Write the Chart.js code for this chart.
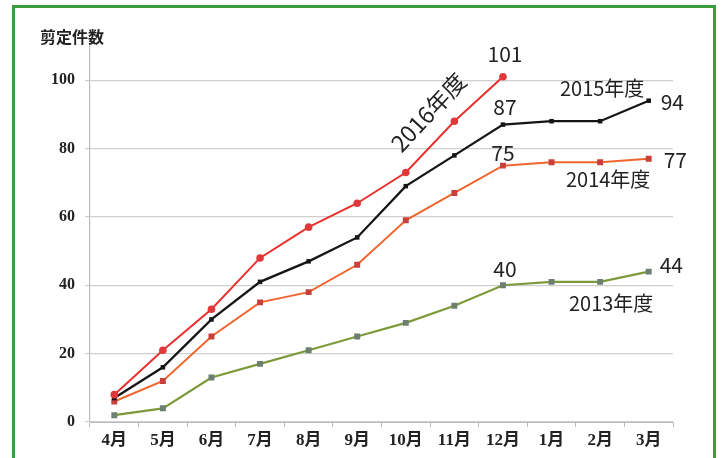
<!DOCTYPE html>
<html><head><meta charset="utf-8">
<script src="https://cdn.jsdelivr.net/npm/chart.js@4"></script>
<style>
html,body{margin:0;padding:0;background:#fff;overflow:hidden;}
#wrap{position:relative;width:727px;height:458px;}
#frame{position:absolute;left:12px;top:5px;width:704px;height:470px;border:3px solid #3a9c3e;box-sizing:border-box;pointer-events:none;}
canvas{position:absolute;left:0;top:0;}
</style></head>
<body>
<div id="wrap"><canvas id="c" width="727" height="458"></canvas><div id="frame"></div></div>
<script>
const categories = ['4月','5月','6月','7月','8月','9月','10月','11月','12月','1月','2月','3月'];
const fy2016 = [8,21,33,48,57,64,73,88,101,null,null,null];
const fy2015 = [7,16,30,41,47,54,69,78,87,88,88,94];
const fy2014 = [6,12,25,35,38,46,59,67,75,76,76,77];
const fy2013 = [2,4,13,17,21,25,29,34,40,41,41,44];
const yTicks = [0,20,40,60,80,100];
const axisTitle = '剪定件数';
// annotations: text, dataset index, point index, offset x, offset y, rotation, align, size
const notes = [
  ['101',0,8,2,-23,0,'center',21],
  ['87',1,8,2,-18,0,'center',21],
  ['75',2,8,0,-13,0,'center',21],
  ['40',3,8,2,-16,0,'center',21],
  ['94',1,11,12,1,0,'left',21],
  ['77',2,11,15,1,0,'left',21],
  ['44',3,11,11,-7,0,'left',21],
  ['2015年度',1,10,2,-33,0,'center',20],
  ['2014年度',2,10,8,17,0,'center',20],
  ['2013年度',3,10,11,22,0,'center',20],
  ['2016年度',0,7,-26,-9,-47,'center',23]
];

const annot = {
  id:'annot',
  afterDatasetsDraw(chart){
    const ctx = chart.ctx;
    ctx.save();
    ctx.fillStyle = '#222';
    ctx.font = 'bold 16px "Noto Sans CJK JP"';
    ctx.textAlign = 'left'; ctx.textBaseline = 'middle';
    ctx.fillText(axisTitle, 40, 37);
    for (const [t,di,pi,dx,dy,rot,al,sz] of notes){
      const pt = chart.getDatasetMeta(di).data[pi];
      ctx.save();
      ctx.font = sz+'px "Noto Sans CJK JP"';
      ctx.translate(pt.x+dx, pt.y+dy);
      ctx.rotate(rot*Math.PI/180);
      ctx.textAlign = al;
      ctx.fillText(t,0,0);
      ctx.restore();
    }
    ctx.restore();
  }
};

new Chart(document.getElementById('c'), {
  type:'line',
  data:{
    labels:categories,
    datasets:[
      {label:'2016年度',data:fy2016,borderColor:'#e8302c',backgroundColor:'#e0383a',pointStyle:'circle',pointRadius:3.8,borderWidth:2,pointBorderWidth:0},
      {label:'2015年度',data:fy2015,borderColor:'#151515',backgroundColor:'#151515',pointStyle:'rect',pointRadius:3.2,borderWidth:2.3,pointBorderWidth:0},
      {label:'2014年度',data:fy2014,borderColor:'#f0652e',backgroundColor:'#c8403c',pointStyle:'rect',pointRadius:4.2,borderWidth:2,pointBorderWidth:0},
      {label:'2013年度',data:fy2013,borderColor:'#7d9a3a',backgroundColor:'#6d7f70',pointStyle:'rect',pointRadius:4.2,borderWidth:2.2,pointBorderWidth:0}
    ]
  },
  options:{
    responsive:false,animation:false,
    layout:{padding:{top:46,right:54,left:0,bottom:0}},
    plugins:{legend:{display:false},tooltip:{enabled:false},title:{display:false}},
    elements:{line:{tension:0}},
    scales:{
      x:{
        offset:true,
        grid:{display:true,drawOnChartArea:false,drawTicks:true,tickLength:5,offset:true,color:'#bbb'},
        border:{color:'#bbb',width:1},
        ticks:{color:'#222',font:{family:'"Liberation Serif","Noto Sans CJK JP"',weight:'bold',size:17},padding:3,maxRotation:0,autoSkip:false},
        afterFit(s){s.height=36;}
      },
      y:{
        min:0,max:110,
        afterBuildTicks(s){s.ticks = yTicks.map(v=>({value:v}));},
        grid:{color:'#cfcfcf',lineWidth:1.2,tickLength:5,drawTicks:true},
        border:{color:'#bbb',width:1.2},
        ticks:{color:'#222',font:{family:'"Liberation Serif"',weight:'bold',size:16},padding:10},
        afterFit(s){s.width=90;}
      }
    }
  },
  plugins:[annot]
});
</script>
</body></html>
